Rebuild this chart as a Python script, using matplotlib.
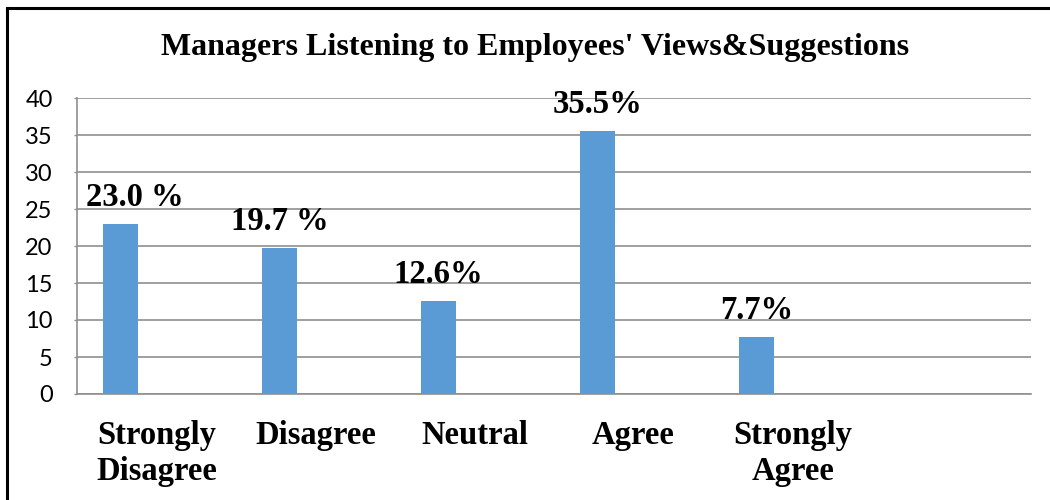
import matplotlib.pyplot as plt
from matplotlib.lines import Line2D

categories = ["Strongly\nDisagree", "Disagree", "Neutral", "Agree", "Strongly\nAgree"]
percentages = [23.0, 19.7, 12.6, 35.5, 7.7]
value_labels = ["23.0 %", "19.7 %", "12.6%", "35.5%", "7.7%"]
y_ticks = [0, 5, 10, 15, 20, 25, 30, 35, 40]

SERIF = "Liberation Serif"
SANS = "Lato"
BAR_COLOR = "#5B9BD5"
GRID_COLOR = "#8f8f8f"

# small manual nudges (points) for the value labels
label_dx = [10, 0, 0, 0, 0]

fig = plt.figure(figsize=(10.5, 5), dpi=100)
ax = fig.add_axes([0.0733, 0.212, 0.9087, 0.592])

# one empty slot is kept on the right, bars sit left of each slot centre
slots = list(range(len(categories)))
bar_x = [s - 0.226 for s in slots]
ax.bar(bar_x, percentages, width=0.22, color=BAR_COLOR, zorder=3)

for x, v, txt, dx in zip(bar_x, percentages, value_labels, label_dx):
    ax.annotate(txt, (x, v), xytext=(dx, 13), textcoords="offset points",
                ha="center", va="baseline", fontsize=23.5, fontweight="bold",
                family=SERIF, zorder=4)

ax.set_xlim(-0.5, len(categories) + 0.5)
ax.set_ylim(0, 40)
ax.set_yticks(y_ticks)
ax.set_xticks(slots)
ax.set_xticklabels(categories, fontsize=23.5, fontweight="bold", family=SERIF)
for lab in ax.get_yticklabels():
    lab.set_family(SANS)
    lab.set_fontsize(17)

ax.yaxis.grid(True, color=GRID_COLOR, linewidth=1.2, zorder=0)
ax.set_axisbelow(True)
ax.tick_params(axis="y", length=2.5, width=1, color=GRID_COLOR, pad=15)
ax.tick_params(axis="x", length=0, pad=19)
for side in ("top", "right"):
    ax.spines[side].set_visible(False)
for side in ("left", "bottom"):
    ax.spines[side].set_color(GRID_COLOR)
    ax.spines[side].set_linewidth(1.2)

fig.text(0.51, 0.904, "Managers Listening to Employees' Views&Suggestions",
         ha="center", va="center", fontsize=23, fontweight="bold", family=SERIF)

# frame lines along the left and top edge
fig.add_artist(Line2D([6.5 / 1050, 6.5 / 1050], [0, 1 - 8 / 500],
                      transform=fig.transFigure, color="black", linewidth=2.2))
fig.add_artist(Line2D([6.5 / 1050, 1], [1 - 8 / 500, 1 - 8 / 500],
                      transform=fig.transFigure, color="black", linewidth=2.2))

fig.savefig("out.png", dpi=100)
